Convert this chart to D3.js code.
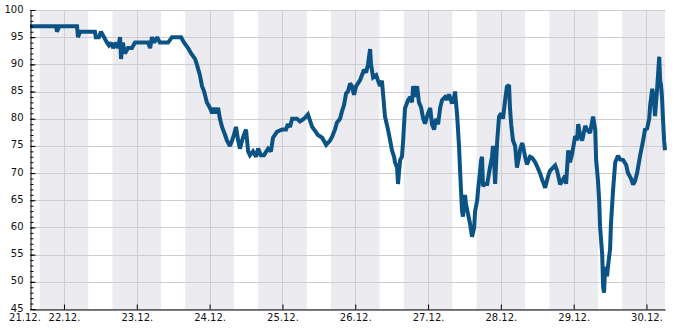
<!DOCTYPE html>
<html>
<head>
<meta charset="utf-8">
<script src="https://cdn.jsdelivr.net/npm/d3@7"></script>
<style>
  body { margin: 0; background: #fff; }
  svg text { font-family: "DejaVu Sans", sans-serif; font-size: 10px; fill: #111; }
</style>
</head>
<body>
<div id="chart"></div>
<script>
// hours since 21.12. 00:00 and the measured value at that time
const hours = [12.8, 21.4, 21.7, 22.4, 28.3, 28.6, 29.3, 34.2, 34.5, 35.5, 36.2, 37.2, 38.2, 38.8, 39.5, 40.2,
  41.1, 41.8, 42.5, 42.8, 43.4, 44.1, 45.1, 46.4, 47.4, 51.7, 52.4, 53.0, 53.7, 54.7, 55.6, 58.3, 59.6, 62.6,
  63.6, 64.9, 65.9, 67.2, 67.8, 68.8, 69.5, 70.2, 71.1, 72.1, 72.8, 73.5, 74.1, 74.8, 75.4, 76.1, 77.1, 77.7,
  78.7, 79.4, 80.0, 80.7, 81.4, 82.0, 82.7, 83.3, 84.0, 84.7, 85.3, 86.3, 87.3, 88.0, 88.9, 89.9, 91.3, 92.2,
  92.9, 94.2, 95.9, 97.2, 97.8, 98.5, 99.2, 100.8, 101.8, 103.1, 104.4, 105.8, 107.1, 107.7, 109.1, 110.4,
  111.7, 112.4, 113.3, 114.0, 115.0, 115.6, 116.3, 117.0, 117.6, 118.3, 118.9, 119.6, 120.3, 120.9, 121.6,
  122.2, 122.9, 123.6, 124.2, 124.9, 125.2, 125.9, 126.9, 127.5, 128.2, 128.8, 129.2, 129.8, 130.8, 131.5,
  132.1, 132.8, 133.1, 133.8, 134.1, 134.4, 134.8, 135.4, 135.8, 136.4, 137.4, 138.1, 138.7, 139.1, 139.7,
  140.4, 141.0, 141.7, 142.4, 143.0, 144.0, 144.7, 145.3, 146.0, 146.6, 147.3, 148.0, 148.6, 149.6, 150.3,
  150.9, 151.9, 152.6, 152.9, 153.6, 154.2, 154.6, 154.9, 155.2, 155.5, 156.2, 156.5, 157.2, 157.8, 158.5,
  159.2, 159.5, 160.2, 160.5, 161.1, 161.5, 161.8, 162.1, 162.8, 163.5, 164.1, 164.4, 165.1, 165.4, 165.8,
  166.1, 166.8, 167.4, 168.1, 168.7, 169.4, 170.0, 170.7, 171.0, 171.4, 172.0, 172.7, 173.3, 174.0, 174.3,
  175.0, 175.3, 176.0, 176.6, 177.6, 178.3, 179.3, 179.9, 180.9, 181.6, 182.6, 183.6, 184.2, 185.2, 185.9,
  186.5, 187.2, 187.5, 188.2, 189.2, 189.5, 190.2, 190.8, 191.5, 192.5, 193.1, 193.5, 194.1, 194.8, 195.8,
  196.4, 197.4, 198.4, 199.1, 199.4, 200.0, 200.4, 200.7, 201.4, 201.7, 202.0, 202.4, 203.0, 203.3, 204.0,
  204.3, 205.0, 205.7, 206.6, 207.3, 208.3, 209.3, 209.9, 210.9, 211.6, 212.2, 212.9, 213.9, 214.9, 215.5,
  216.2, 216.9, 217.2, 217.9, 218.5, 218.8, 219.5, 219.8, 220.2, 220.5, 220.8, 221.1, 221.5, 221.8, 222.1];

const values = [97, 97, 96, 97, 97, 95, 96, 96, 95, 95, 96, 95, 94, 93.5, 94, 93,
  94, 93, 95, 91, 94, 92, 93, 93, 94, 94, 93, 95, 94, 95, 94, 94, 95, 95,
  94, 93, 92, 91, 90, 88, 86, 85, 83, 82, 81, 82, 81, 82, 80, 78.5, 77, 76,
  75, 76, 77, 78.5, 76, 74.5, 76, 77, 78, 74, 73.3, 74, 73, 74.5, 73.3, 73.3, 74.5, 74,
  76.5, 77.6, 78, 78, 79, 78.5, 80, 80, 79.5, 80, 80.8, 78.5, 77.5, 77, 76.5, 75.2,
  76, 76.7, 78, 79.3, 80, 81.3, 82.5, 84.7, 85, 86.5, 86, 84.4, 86, 86.5, 87.1,
  88, 89, 88.5, 90, 92.8, 90, 87.6, 88, 87, 86, 87, 84.4, 80.4, 78, 76,
  74.2, 73, 72, 71, 68, 70, 72.4, 73, 76, 81.9, 83.4, 84, 83, 86, 84,
  86, 83, 82.1, 80, 79.1, 81, 82, 79, 78, 80, 79, 82, 83.4, 84, 83.5,
  84.5, 82.8, 84, 85, 80.5, 75, 70, 66.4, 63, 62, 66, 64.3, 62.4, 60.8, 58.3,
  60, 63, 65, 67, 70, 72.4, 73, 67.6, 68, 68, 70, 71, 73, 75, 72,
  68, 76, 80.4, 81, 80, 83.4, 85.9, 86.2, 82, 79, 76, 75, 71, 73, 74.2,
  75.5, 75, 73, 71.6, 73, 72.8, 72, 71.3, 70, 68.8, 67.3, 69.5, 70.4, 71, 71.4,
  70.5, 68.8, 67.9, 68.5, 69.5, 68, 74.2, 72, 73.6, 76.8, 76, 79, 77, 76, 78.7,
  78, 77.4, 80.4, 78, 72.4, 68.7, 65, 60.1, 55, 49.1, 48, 52.8, 51, 52.8, 56,
  60.8, 67, 72, 73.2, 72.5, 72.4, 71.5, 70, 69, 67.9, 68.5, 70, 73.2, 76, 78,
  78.2, 80, 82.4, 85.5, 83, 80.5, 85.5, 88, 91.4, 87, 86.1, 84, 79.3, 76, 74.2];

// night bands: 16:00 until 08:00 next morning
const nightStarts = [16, 40, 64, 88, 112, 136, 160, 184, 208];
const nightLength = 16;

const yTicks = [45, 50, 55, 60, 65, 70, 75, 80, 85, 90, 95, 100];

const width = 685, height = 330;
const margin = {top: 10, right: 20, bottom: 21, left: 30};

const base = new Date(2019, 11, 21, 0, 0);
const toDate = h => new Date(base.getTime() + h * 3600 * 1000);

const data = hours.map((h, i) => ({t: toDate(h), v: values[i]}));

const x = d3.scaleTime()
  .domain([toDate(hours[0]), toDate(hours[hours.length - 1])])
  .range([margin.left, width - margin.right]);

const y = d3.scaleLinear()
  .domain([45, 100])
  .range([height - margin.bottom, margin.top]);

const svg = d3.select("#chart").append("svg")
  .attr("width", width)
  .attr("height", height);

// shaded night bands
svg.append("g").selectAll("rect")
  .data(nightStarts)
  .enter().append("rect")
  .attr("x", d => x(toDate(d)))
  .attr("y", margin.top)
  .attr("width", d => Math.min(x(toDate(d + nightLength)), x.range()[1]) - x(toDate(d)))
  .attr("height", y(45) - y(100))
  .attr("fill", "#ebebf0");

// grid
const days = d3.timeDay.range(d3.timeDay.ceil(x.domain()[0]), x.domain()[1]);
svg.append("g").selectAll("line")
  .data(yTicks)
  .enter().append("line")
  .attr("x1", margin.left).attr("x2", width - margin.right)
  .attr("y1", d => Math.round(y(d)) + 0.5).attr("y2", d => Math.round(y(d)) + 0.5)
  .attr("stroke", "#cdcdd2");
svg.append("g").selectAll("line")
  .data(days)
  .enter().append("line")
  .attr("x1", d => Math.round(x(d)) + 0.5).attr("x2", d => Math.round(x(d)) + 0.5)
  .attr("y1", margin.top).attr("y2", y(45))
  .attr("stroke", "#cdcdd2");

// series
const line = d3.line()
  .x(d => x(d.t))
  .y(d => y(d.v));

svg.append("path")
  .datum(data)
  .attr("d", line)
  .attr("fill", "none")
  .attr("stroke", "#0b5384")
  .attr("stroke-width", 4)
  .attr("stroke-linejoin", "miter")
  .attr("stroke-miterlimit", 2);

// y axis, ticks pointing into the plot
const yAxis = svg.append("g")
  .attr("transform", `translate(${margin.left + 0.5},0)`)
  .call(d3.axisLeft(y).tickValues(yTicks).tickSize(-5).tickPadding(8).tickSizeOuter(0));
yAxis.selectAll(".tick text").attr("dx", "0.1em").attr("dy", "0.2em");
svg.append("g")
  .attr("transform", `translate(${margin.left + 0.5},0)`)
  .call(d3.axisLeft(y).tickValues(d3.range(45, 101, 1)).tickSize(-3).tickFormat("").tickSizeOuter(0))
  .select(".domain").remove();

// x axis
const xAxis = svg.append("g")
  .attr("transform", `translate(0,${y(45) + 0.5})`)
  .call(d3.axisBottom(x).tickValues(days).tickSize(-5).tickPadding(4)
    .tickFormat(d3.timeFormat("%d.%m.")).tickSizeOuter(0));
xAxis.append("text")
  .attr("x", x.range()[0] - 5)
  .attr("y", 4)
  .attr("dy", "0.71em")
  .attr("text-anchor", "middle")
  .text(d3.timeFormat("%d.%m.")(base));

svg.selectAll(".domain").attr("stroke", "#000");
svg.selectAll(".tick line").attr("stroke", "#000");
svg.selectAll(".tick text").style("font-size", "10px").attr("fill", "#111");
</script>
</body>
</html>
